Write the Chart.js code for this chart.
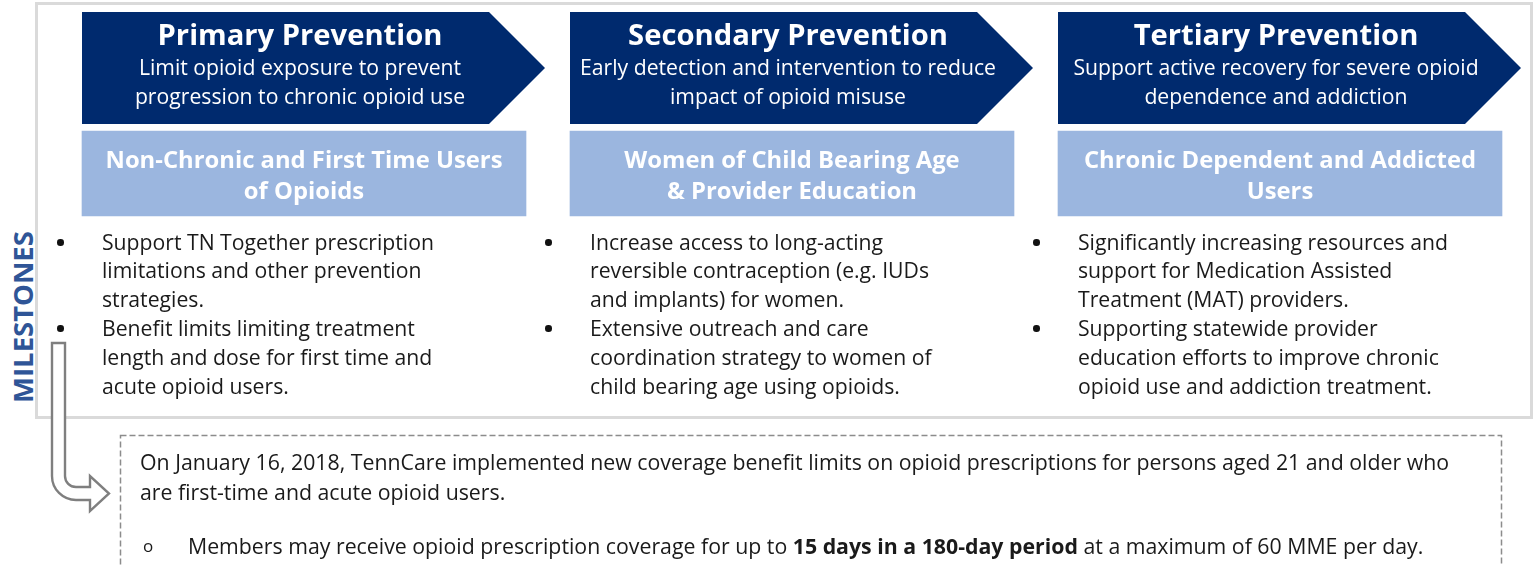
<!DOCTYPE html>
<html>
<head>
<meta charset="utf-8">
<script src="https://cdn.jsdelivr.net/npm/chart.js@4.4.1/dist/chart.umd.min.js"></script>
<style>
  body { margin: 0; background: #fff; font-family: "Open Sans", sans-serif; }
  #page { position: relative; width: 1538px; height: 566px; overflow: hidden; }
  #frame { position: absolute; left: 35px; top: 2px; width: 1498px; height: 417px; border: 3px solid #dadada; box-sizing: border-box; }
  #stages { position: absolute; left: 0; top: 0; }
  .txt { position: absolute; white-space: nowrap; }
  .head { text-align: center; color: #fff; }
  .head .title { font-weight: 700; font-size: 29.2px; line-height: 36px; }
  .head .aim { font-size: 21.2px; line-height: 29px; }
  .aud { text-align: center; color: #fff; font-weight: 700; font-size: 23.8px; line-height: 31px; }
  .ms { color: #1a1a1a; font-size: 21.2px; line-height: 28.8px; }
  .ms .item { position: relative; }
  .ms .dot { position: absolute; left: -45px; top: 11.5px; width: 6.5px; height: 6.5px; border-radius: 50%; background: #111; }
  #label { position: absolute; left: -67px; top: 302px; width: 180px; height: 30px; line-height: 30px; text-align: center;
           transform: rotate(-90deg); color: #2f5597; font-weight: 700; font-size: 27.5px; }
  #note { left: 140px; top: 447px; color: #1a1a1a; font-size: 21.3px; line-height: 30px; }
  #note .sub { position: relative; margin-top: 24px; padding-left: 48px; }
  #note .sub .dot { position: absolute; left: 3px; font-size: 17px; }
  #marks { position: absolute; left: 0; top: 0; }
</style>
</head>
<body>
<div id="page">
  <div id="frame"></div>
  <canvas id="stages" width="1538" height="220"></canvas>
  <div id="label">MILESTONES</div>
  <svg id="marks" width="1538" height="566">
    <rect x="120.5" y="435.5" width="1381" height="200" fill="none" stroke="#8c8c8c" stroke-width="1.5" stroke-dasharray="6 3"></rect>
    <path d="M52,343 L65,343 L65,476 A11,11 0 0 0 76,487 L90,487 L90,476 L109,493.5 L90,511 L90,500 L76,500 A24,24 0 0 1 52,476 Z"
          fill="#fff" stroke="#7f7f7f" stroke-width="2.4" stroke-linejoin="miter"></path>
  </svg>
</div>
<script>
// stages of prevention, left to right
const stages = ["Primary Prevention", "Secondary Prevention", "Tertiary Prevention"];
const stageAims = [
  ["Limit opioid exposure to prevent", "progression to chronic opioid use"],
  ["Early detection and intervention to reduce", "impact of opioid misuse"],
  ["Support active recovery for severe opioid", "dependence and addiction"],
];
const audiences = [
  ["Non-Chronic and First Time Users", "of Opioids"],
  ["Women of Child Bearing Age", "& Provider Education"],
  ["Chronic Dependent and Addicted", "Users"],
];
// milestones per stage, each bullet kept as its printed lines
const milestones = [
  [
    ["Support TN Together prescription", "limitations and other prevention", "strategies."],
    ["Benefit limits limiting treatment", "length and dose for first time and", "acute opioid users."],
  ],
  [
    ["Increase access to long-acting", "reversible contraception (e.g. IUDs", "and implants) for women."],
    ["Extensive outreach and care", "coordination strategy to women of", "child bearing age using opioids."],
  ],
  [
    ["Significantly increasing resources and", "support for Medication Assisted", "Treatment (MAT) providers."],
    ["Supporting statewide provider", "education efforts to improve chronic", "opioid use and addiction treatment."],
  ],
];
const noteLines = [
  "On January 16, 2018, TennCare implemented new coverage benefit limits on opioid prescriptions for persons aged 21 and older who",
  "are first-time and acute opioid users.",
];
const limitParts = ["Members may receive opioid prescription coverage for up to ", "15 days in a 180-day period", " at a maximum of 60 MME per day."];

// layout of the two bands (in canvas rows) and colours
const headerBand = [12, 124];
const audienceBand = [131, 216];
const navy = "#002a6e";
const lightBlue = "#9bb6df";
const boxWidth = 444;
const tipReach = 463;

// draws the header bars as chevrons instead of plain rectangles
const chevronPlugin = {
  id: "chevrons",
  afterDatasetsDraw(chart) {
    const c = chart.ctx;
    const meta = chart.getDatasetMeta(1);
    meta.data.forEach((el) => {
      const p = el.getProps(["x", "y", "base", "width"], true);
      const top = Math.min(p.y, p.base);
      const bottom = Math.max(p.y, p.base);
      const half = (bottom - top) / 2;
      const left = p.x - p.width / 2;
      const tip = left + tipReach;
      c.save();
      c.fillStyle = navy;
      c.beginPath();
      c.moveTo(left, top);
      c.lineTo(tip - half, top);
      c.lineTo(tip, top + half);
      c.lineTo(tip - half, bottom);
      c.lineTo(left, bottom);
      c.closePath();
      c.fill();
      c.restore();
    });
  },
};

const ctx = document.querySelector("#stages").getContext("2d");
const chart = new Chart(ctx, {
  type: "bar",
  data: {
    labels: stages,
    datasets: [
      {
        label: "Target group",
        data: stages.map(() => audienceBand),
        backgroundColor: lightBlue,
        barThickness: boxWidth,
        grouped: false,
      },
      {
        label: "Stage",
        data: stages.map(() => headerBand),
        backgroundColor: "rgba(0,0,0,0)",
        barThickness: boxWidth,
        grouped: false,
      },
    ],
  },
  options: {
    responsive: false,
    animation: false,
    devicePixelRatio: 1,
    layout: { padding: { left: 60, right: 14, top: 0, bottom: 0 } },
    scales: {
      x: { display: false },
      y: { display: false, min: 0, max: 220, reverse: true },
    },
    plugins: { legend: { display: false }, tooltip: { enabled: false } },
  },
  plugins: [chevronPlugin],
});

// put the text on top of the bars, using the bar centres from the chart
const page = document.querySelector("#page");
const addText = (cls, left, top, width, html) => {
  const d = document.createElement("div");
  d.className = "txt " + cls;
  d.style.left = left + "px";
  d.style.top = top + "px";
  if (width) d.style.width = width + "px";
  d.innerHTML = html;
  page.appendChild(d);
  return d;
};

chart.getDatasetMeta(0).data.forEach((el, i) => {
  const cx = el.x;
  addText("head", cx - 264, 16, 520,
    `<div class="title">${stages[i]}</div>` + stageAims[i].map((l) => `<div class="aim">${l}</div>`).join(""));
  addText("aud", cx - 260, 143.5, 520, audiences[i].join("<br>"));
  const items = milestones[i]
    .map((lines) => `<div class="item"><span class="dot"></span>${lines.join("<br>")}</div>`)
    .join("");
  addText("ms", cx - 202, 227.6, 0, items);
});

const note = addText("", 0, 0, 0,
  noteLines.join("<br>") +
  `<div class="sub"><span class="dot">o</span>${limitParts[0]}<b>${limitParts[1]}</b>${limitParts[2]}</div>`);
note.id = "note";
note.style.left = "";
note.style.top = "";
</script>
</body>
</html>
